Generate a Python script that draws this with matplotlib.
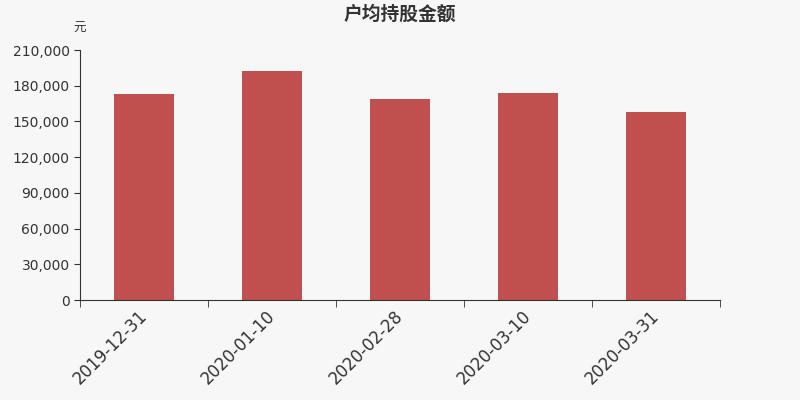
import matplotlib.pyplot as plt
import matplotlib.transforms as mtransforms
from matplotlib.ticker import FuncFormatter, MultipleLocator

plt.rcParams['font.family'] = ['Noto Sans CJK SC', 'DejaVu Sans']

dates = ["2019-12-31", "2020-01-10", "2020-02-28", "2020-03-10", "2020-03-31"]
amounts = [173000, 192000, 168500, 174000, 158000]

fig = plt.figure(figsize=(8, 4), dpi=100, facecolor="#f7f7f7")
ax = fig.add_axes([0.1, 0.25, 0.8, 0.625], facecolor="#f7f7f7")

x = list(range(len(dates)))
ax.bar(x, amounts, width=0.47, color="#c0504d")

ax.set_xlim(-0.5, len(dates) - 0.5)
ax.set_ylim(0, 210000)
ax.yaxis.set_major_locator(MultipleLocator(30000))
ax.yaxis.set_major_formatter(FuncFormatter(lambda v, p: f"{int(v):,}"))

ax.set_xticks(x)
ax.set_xticklabels(dates, rotation=45, ha="right", rotation_mode="anchor",
                   fontsize=12, color="#333333", family="DejaVu Sans")
ax.tick_params(axis="x", length=0, pad=5)
shift = mtransforms.ScaledTranslation(-6 / 100, 0, fig.dpi_scale_trans)
for lbl in ax.get_xticklabels():
    lbl.set_transform(lbl.get_transform() + shift)
ax.set_xticks([i - 0.5 for i in range(len(dates) + 1)], minor=True)
ax.tick_params(axis="x", which="minor", length=5, color="#333333")
ax.tick_params(axis="y", length=4, labelsize=10, colors="#333333", labelcolor="#333333")
for lbl in ax.get_yticklabels():
    lbl.set_family("DejaVu Sans")

for s in ["top", "right"]:
    ax.spines[s].set_visible(False)
ax.spines["left"].set_color("#333333")
ax.spines["bottom"].set_color("#333333")

fig.text(0.5, 0.965, "户均持股金额", ha="center", va="center", fontsize=13.5,
         fontweight="bold", color="#333333")
fig.text(0.099, 0.93, "元", ha="center", va="center", fontsize=9, color="#333333")

fig.savefig("out.png", dpi=100, facecolor=fig.get_facecolor())
